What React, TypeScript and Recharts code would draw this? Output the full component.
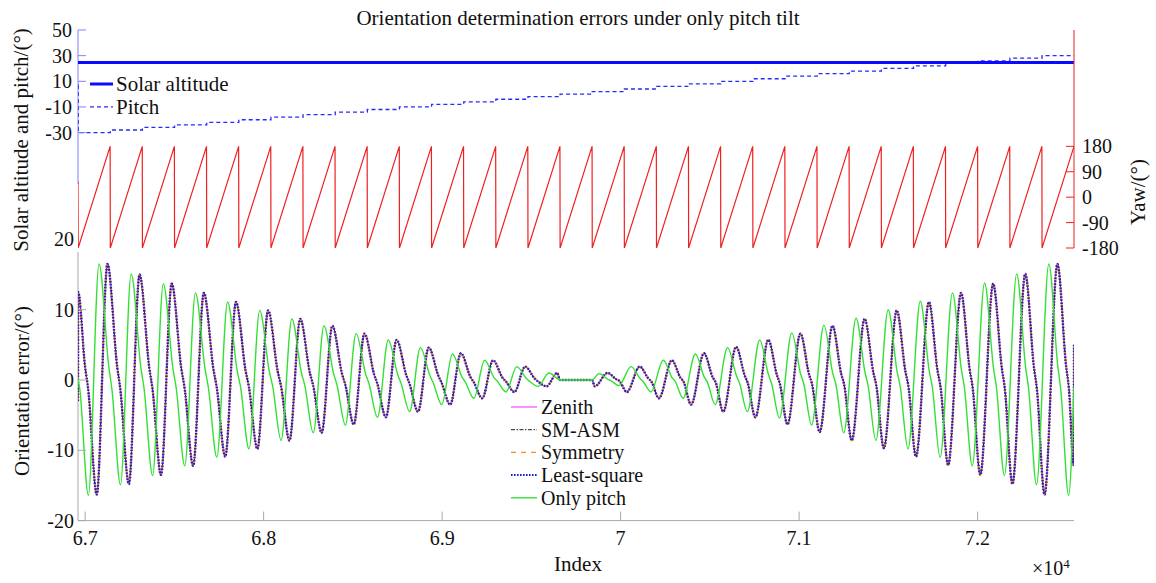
import React from "react";
import { LineChart, Line, XAxis, YAxis, ReferenceLine } from "recharts";

// sample index range shown on both panels
const indexStart = 66960;
const indexEnd = 72540;
const indexTicks = [67000, 68000, 69000, 70000, 71000, 72000];

// one full yaw turn (-180 -> 180) starts at each of these indices
const rotationStarts = [
  66960, 67140, 67320, 67500, 67680, 67860, 68040, 68220, 68400, 68580, 68760,
  68940, 69120, 69300, 69480, 69660, 69840, 70020, 70200, 70380, 70560, 70740,
  70920, 71100, 71280, 71460, 71640, 71820, 72000, 72180, 72360,
];

// pitch held for each yaw turn (deg)
const pitchSteps = [
  -30, -28, -26, -24, -22, -20, -18, -16, -14, -12, -10, -8, -6, -4, -2, 0, 2,
  4, 6, 8, 10, 12, 14, 16, 18, 20, 22, 24, 26, 28, 30,
];
const solarAltitude = 24.6;
const yawRange = [-180, 180];
// first sample carries over from the previous run
const firstPitch = 7;
const firstYaw = 55;

// error extremes per yaw turn (deg)
const onlyPitchPeak = [
  16.5, 15.1, 13.7, 12.4, 11.1, 9.9, 8.7, 7.7, 6.6, 5.7, 4.6, 3.7, 2.8, 1.9, 1.0,
  0, 0.9, 1.9, 2.8, 3.7, 4.6, 5.7, 6.7, 7.8, 8.8, 10.0, 11.2, 12.4, 13.8, 15.1, 16.5,
];
const onlyPitchTrough = [
  -16.4, -14.9, -13.6, -12.2, -11.0, -9.8, -8.6, -7.5, -6.4, -5.3, -4.5, -3.5,
  -2.6, -1.7, -0.9, 0, -0.8, -1.7, -2.6, -3.5, -4.5, -5.4, -6.4, -7.5, -8.6,
  -9.8, -11.0, -12.2, -13.6, -14.9, -16.4,
];
const methodPeak = [
  16.5, 15.0, 13.7, 12.4, 11.1, 9.9, 8.7, 7.7, 6.6, 5.7, 4.6, 3.8, 2.8, 1.9, 1.0,
  0, 1.0, 1.9, 2.8, 3.8, 4.7, 5.7, 6.6, 7.7, 8.7, 9.9, 11.1, 12.4, 13.7, 15.1, 16.5,
];
const methodTrough = [
  -16.3, -14.8, -13.5, -12.2, -10.9, -9.8, -8.6, -7.5, -6.3, -5.3, -4.5, -3.5,
  -2.6, -1.7, -0.9, 0, -0.9, -1.7, -2.6, -3.5, -4.5, -5.3, -6.3, -7.4, -8.6,
  -9.7, -10.9, -12.1, -13.5, -14.8, -16.3,
];
// shoulder on the falling edge, near zero
const kneeHigh = [
  2.0, 1.8, 1.6, 1.5, 1.3, 1.2, 1.0, 0.9, 0.8, 0.7, 0.6, 0.4, 0.3, 0.2, 0.1, 0,
  0.1, 0.2, 0.3, 0.4, 0.6, 0.7, 0.8, 0.9, 1.1, 1.2, 1.3, 1.5, 1.7, 1.8, 2.0,
];
const kneeLow = [
  -1.3, -1.2, -1.1, -1.0, -0.9, -0.8, -0.7, -0.6, -0.5, -0.5, -0.4, -0.3, -0.2,
  -0.2, -0.1, 0, -0.1, -0.2, -0.2, -0.3, -0.4, -0.5, -0.5, -0.6, -0.7, -0.8,
  -0.9, -1.0, -1.1, -1.2, -1.3,
];

// [trough, peak] offsets inside a turn, for negative / positive pitch
const onlyPitchPhase = { neg: [58, 118], pos: [150, 39] };
const methodPhase = { neg: [105, 165], pos: [15, 87] };

const onlyPitchEnds = {
  head: [{ x: 66960, v: 0.2 }, { x: 66970, v: -1.3 }],
  tail: [{ x: 72540, v: -1 }],
};
const methodEnds = {
  head: [
    { x: 66960, v: -3 },
    { x: 66961, v: 12.5 },
    { x: 66999, v: 2.0 },
    { x: 67017, v: -1.3 },
  ],
  tail: [{ x: 72538, v: -12.1 }, { x: 72540, v: 5 }],
};

type Pt = { x: number; v: number };

function turnEnd(k: number) {
  return k + 1 < rotationStarts.length ? rotationStarts[k + 1] : indexEnd;
}

function buildWave(
  peaks: number[],
  troughs: number[],
  phase: { neg: number[]; pos: number[] },
  ends: { head: Pt[]; tail: Pt[] }
) {
  const pts: Pt[] = [...ends.head];
  rotationStarts.forEach((s, k) => {
    const end = turnEnd(k);
    if (pitchSteps[k] === 0) {
      pts.push({ x: s, v: 0 }, { x: end, v: 0 });
      return;
    }
    const [tOff, pOff] = pitchSteps[k] < 0 ? phase.neg : phase.pos;
    const fall = (tOff > pOff ? tOff : tOff + 180) - pOff;
    const turn = [
      { x: s + tOff, v: troughs[k] },
      { x: s + pOff, v: peaks[k] },
      { x: s + pOff + 0.45 * fall, v: kneeHigh[k] },
      { x: s + pOff + 0.6 * fall, v: kneeLow[k] },
    ];
    const nextFlat = pitchSteps[k + 1] === 0;
    turn.filter((p) => !nextFlat || p.x < end).forEach((p) => pts.push(p));
  });
  pts.push(...ends.tail);
  return pts
    .filter((p) => p.x >= indexStart && p.x <= indexEnd)
    .sort((a, b) => a.x - b.x);
}

const solarData = [
  { x: indexStart, v: solarAltitude },
  { x: indexEnd, v: solarAltitude },
];
const pitchData: Pt[] = [{ x: indexStart, v: firstPitch }];
rotationStarts.forEach((s, k) => pitchData.push({ x: s + 1, v: pitchSteps[k] }));
pitchData.push({ x: indexEnd, v: pitchSteps[pitchSteps.length - 1] });

const yawData: Pt[] = [{ x: indexStart, v: firstYaw }];
rotationStarts.forEach((s, k) => {
  yawData.push({ x: s + 1, v: yawRange[0] }, { x: turnEnd(k), v: yawRange[1] });
});

const onlyPitchData = buildWave(onlyPitchPeak, onlyPitchTrough, onlyPitchPhase, onlyPitchEnds);
const methodData = buildWave(methodPeak, methodTrough, methodPhase, methodEnds);

const serif = '"Liberation Serif", "Times New Roman", serif';
const ink = "#111";
const gray = "#a8a8a8";
const altBlue = "#8080ff";
const yawRed = "#f02020";

const W = 1156;
const H = 583;

function LeftTick(props: any, color: string, gap: number, maxLine = Infinity) {
  const { x, y, payload } = props;
  const axisX = x + gap;
  return (
    <g>
      {payload.value <= maxLine && (
        <line x1={axisX} x2={axisX + 8} y1={y} y2={y} stroke={color} />
      )}
      <text x={x} y={y} dy="0.35em" textAnchor="end" fill={ink} fontFamily={serif} fontSize={20}>
        {payload.value}
      </text>
    </g>
  );
}

function RightTick(props: any) {
  const { x, y, payload } = props;
  const axisX = x - 8;
  return (
    <g>
      <line x1={axisX - 8} x2={axisX} y1={y} y2={y} stroke={yawRed} />
      <text x={x} y={y} dy="0.35em" textAnchor="start" fill={ink} fontFamily={serif} fontSize={20}>
        {payload.value}
      </text>
    </g>
  );
}

function BottomTick(props: any) {
  const { x, y, payload } = props;
  const axisY = y - 10;
  return (
    <g>
      <line x1={x} x2={x} y1={axisY} y2={axisY - 9} stroke={gray} />
      <text x={x} y={axisY + 24.5} textAnchor="middle" fill={ink} fontFamily={serif} fontSize={20}>
        {String(payload.value / 10000)}
      </text>
    </g>
  );
}

const legendFont = { fill: ink, fontFamily: serif, fontSize: 20 };

function LegendRow({ y, label, sample }: { y: number; label: string; sample: any }) {
  return (
    <g>
      {sample}
      <text x={541} y={y + 7} {...legendFont}>
        {label}
      </text>
    </g>
  );
}

function Overlay() {
  const t = { fill: ink, fontFamily: serif, fontSize: 21 };
  return (
    <svg width={W} height={H} style={{ position: "absolute", left: 0, top: 0, pointerEvents: "none" }}>
      <text x={578} y={24.5} textAnchor="middle" {...t}>
        Orientation determination errors under only pitch tilt
      </text>
      <text transform="translate(28,140) rotate(-90)" textAnchor="middle" {...t}>
        Solar altitude and pitch/(°)
      </text>
      <text transform="translate(29,391) rotate(-90)" textAnchor="middle" {...t}>
        Orientation error/(°)
      </text>
      <text transform="translate(1145,192) rotate(-90)" textAnchor="middle" {...t}>
        Yaw/(°)
      </text>
      <text x={578} y={571} textAnchor="middle" {...t}>
        Index
      </text>
      <text x={1032} y={575} fill={ink} fontFamily={serif} fontSize={20}>
        ×10
        <tspan dy={-7} fontSize={13}>
          4
        </tspan>
      </text>

      {/* upper panel legend */}
      <line x1={90} x2={113} y1={84} y2={84} stroke="#0a0aff" strokeWidth={3} />
      <text x={116} y={90.5} {...legendFont} fontSize={21}>
        Solar altitude
      </text>
      <line x1={90} x2={113} y1={106.8} y2={106.8} stroke="#2a2aff" strokeWidth={1.3} strokeDasharray="4 3" />
      <text x={116} y={113.5} {...legendFont} fontSize={21}>
        Pitch
      </text>

      {/* lower panel legend */}
      <LegendRow
        y={407}
        label="Zenith"
        sample={<line x1={511} x2={537} y1={407} y2={407} stroke="#ff44ff" strokeWidth={1.2} />}
      />
      <LegendRow
        y={429.7}
        label="SM-ASM"
        sample={<line x1={511} x2={537} y1={429.7} y2={429.7} stroke="#222" strokeDasharray="4 1.5 1.5 1.5" />}
      />
      <LegendRow
        y={452.4}
        label="Symmetry"
        sample={<line x1={511} x2={537} y1={452.4} y2={452.4} stroke="#ff8c1a" strokeWidth={1.4} strokeDasharray="5 5" />}
      />
      <LegendRow
        y={475.1}
        label="Least-square"
        sample={<line x1={511} x2={537} y1={475.1} y2={475.1} stroke="#2020c8" strokeWidth={2} strokeDasharray="1.6 1.4" />}
      />
      <LegendRow
        y={497.8}
        label="Only pitch"
        sample={<line x1={511} x2={537} y1={497.8} y2={497.8} stroke="#33e033" strokeWidth={1.4} />}
      />
    </svg>
  );
}

export default function App() {
  const xAxisProps = {
    type: "number" as const,
    dataKey: "x",
    domain: [indexStart, indexEnd],
    allowDataOverflow: true,
  };
  return (
    <div style={{ position: "absolute", left: 0, top: 0, width: W, height: H, background: "#fff" }}>
      {/* lower panel: orientation errors */}
      <div style={{ position: "absolute", left: 0, top: 0 }}>
        <LineChart width={W} height={H} margin={{ top: 239.4, right: 82, bottom: 32.4, left: 18 }}>
          <XAxis
            {...xAxisProps}
            height={30}
            ticks={indexTicks}
            interval={0}
            tickSize={0}
            tickMargin={10}
            stroke={gray}
            tick={BottomTick}
          />
          <YAxis
            type="number"
            domain={[-20, 20]}
            ticks={[-20, -10, 0, 10, 20]}
            interval={0}
            width={60}
            axisLine={false}
            tickSize={0}
            tickMargin={4}
            allowDataOverflow
            tick={(p: any) => LeftTick(p, gray, 4, 15)}
          />
          <ReferenceLine
            segment={[
              { x: indexStart, y: 18.2 },
              { x: indexStart, y: -20 },
            ]}
            stroke={gray}
          />
          <Line data={methodData} dataKey="v" type="monotone" stroke="#ff44ff" strokeWidth={1} dot={false} activeDot={false} isAnimationActive={false} />
          <Line data={methodData} dataKey="v" type="monotone" stroke="#222" strokeWidth={1} strokeDasharray="4 1.5 1.5 1.5" dot={false} activeDot={false} isAnimationActive={false} />
          <Line data={methodData} dataKey="v" type="monotone" stroke="#ff8c1a" strokeWidth={2} strokeDasharray="4 3" dot={false} activeDot={false} isAnimationActive={false} />
          <Line data={methodData} dataKey="v" type="monotone" stroke="#2020c8" strokeWidth={2.4} strokeDasharray="1.6 1.4" dot={false} activeDot={false} isAnimationActive={false} />
          <Line data={onlyPitchData} dataKey="v" type="monotone" stroke="#33e033" strokeWidth={1.4} dot={false} activeDot={false} isAnimationActive={false} />
        </LineChart>
      </div>

      {/* upper panel: solar altitude, pitch and yaw */}
      <div style={{ position: "absolute", left: 0, top: 0 }}>
        <LineChart width={W} height={260} margin={{ top: 30, right: 22, bottom: 12, left: 18 }}>
          <XAxis {...xAxisProps} hide />
          <YAxis
            yAxisId="alt"
            type="number"
            domain={[-120, 50]}
            ticks={[-30, -10, 10, 30, 50]}
            interval={0}
            width={60}
            axisLine={false}
            tickSize={0}
            tickMargin={6}
            allowDataOverflow
            tick={(p: any) => LeftTick(p, altBlue, 6)}
          />
          <YAxis
            yAxisId="yaw"
            orientation="right"
            type="number"
            domain={[-180, 592]}
            ticks={[-180, -90, 0, 90, 180]}
            interval={0}
            width={60}
            stroke={yawRed}
            tickSize={0}
            tickMargin={8}
            allowDataOverflow
            tick={RightTick}
          />
          <ReferenceLine
            yAxisId="alt"
            segment={[
              { x: indexStart, y: 50 },
              { x: indexStart, y: -70 },
            ]}
            stroke={altBlue}
          />
          <Line yAxisId="yaw" data={yawData} dataKey="v" type="linear" stroke={yawRed} strokeWidth={1.2} dot={false} activeDot={false} isAnimationActive={false} />
          <Line yAxisId="alt" data={pitchData} dataKey="v" type="stepAfter" stroke="#2a2aff" strokeWidth={1.3} strokeDasharray="4 3" dot={false} activeDot={false} isAnimationActive={false} />
          <Line yAxisId="alt" data={solarData} dataKey="v" type="linear" stroke="#0a0aff" strokeWidth={3} dot={false} activeDot={false} isAnimationActive={false} />
        </LineChart>
      </div>

      <Overlay />
    </div>
  );
}
